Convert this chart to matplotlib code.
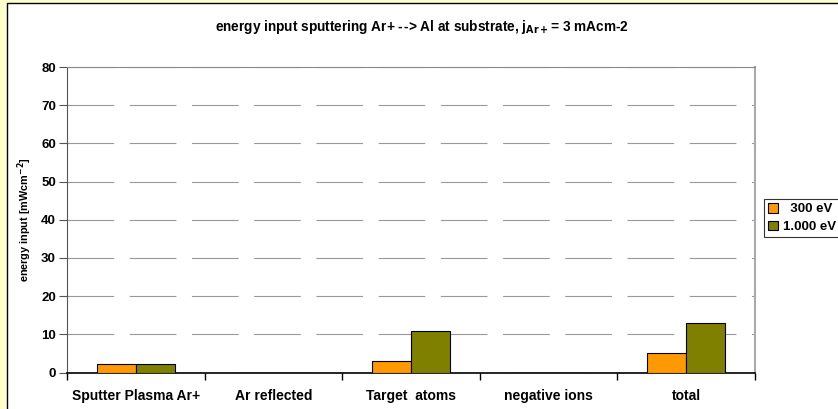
import matplotlib
matplotlib.use("Agg")
import matplotlib.pyplot as plt
import numpy as np
from matplotlib.patches import Rectangle

categories = ["Sputter Plasma Ar+", "Ar reflected", "Target  atoms", "negative ions", "total"]
series_labels = ["  300 eV", "1.000 eV"]
values_300 = [2.1, 0.0, 3.0, 0.0, 5.2]
values_1000 = [2.1, 0.0, 10.8, 0.0, 12.9]
yticks = [0, 10, 20, 30, 40, 50, 60, 70, 80]

plt.rcParams['font.family'] = ['Liberation Sans', 'DejaVu Sans']
plt.rcParams['font.weight'] = 'bold'

W, H = 838, 409
fig = plt.figure(figsize=(W / 100, H / 100), dpi=100)
fig.patch.set_facecolor('#FFFFCC')

# white chart area with black frame
fig.patches.append(Rectangle((7 / W, -0.05), 1.2, 1 - 3 / H + 0.05, transform=fig.transFigure,
                             facecolor='white', edgecolor='black', linewidth=1.0, zorder=-10))

ax = fig.add_axes([67 / W, 1 - 372.5 / H, (755 - 67) / W, (372.5 - 67) / H])
ax.set_zorder(1)
ax.set_facecolor('white')

x = np.arange(len(categories))
bw = 0.285
ax.bar(x - bw / 2, values_300, bw, color='#FF9900', edgecolor='black', linewidth=0.8,
       label=series_labels[0], zorder=3)
ax.bar(x + bw / 2, values_1000, bw, color='#808000', edgecolor='black', linewidth=0.8,
       label=series_labels[1], zorder=3)

ax.set_xlim(-0.5, len(categories) - 0.5)
ax.set_ylim(0, 80)
ax.set_yticks(yticks)
ax.set_yticklabels([str(v) for v in yticks], fontsize=9.5, fontweight='bold')

ax.set_xticks(x)
ax.set_xticklabels(categories, fontsize=10, fontweight='bold')
ax.tick_params(axis='x', length=0, pad=12)
ax.set_xticks(np.arange(len(categories) + 1) - 0.5, minor=True)
ax.tick_params(axis='x', which='minor', length=5, width=1, color='black', direction='out')
ax.tick_params(axis='y', length=6, width=0.8, color='#555555', direction='out', pad=2)

for v in yticks[1:]:
    ax.axhline(v, color='#999999', linewidth=0.8, linestyle=(0, (42, 14)), zorder=1)

ax.spines['top'].set_color('#888888')
ax.spines['right'].set_color('#aaaaaa')
ax.spines['right'].set_linewidth(1.5)
ax.spines['left'].set_color('#555555')
ax.spines['bottom'].set_color('black')
ax.spines['bottom'].set_linewidth(1.2)

ax.set_ylabel("energy input [mWcm$^{\\mathbf{-2}}$]", fontsize=7.8, fontweight='bold', labelpad=5)

fig.text(422 / W, 1 - 27 / H, "energy input sputtering Ar+ -\u200a-> Al at substrate, j$_{\\mathbf{Ar+}}$= 3 mAcm-2",
         ha='center', va='center', fontsize=9.8, fontweight='bold')

leg = fig.legend(loc='upper left', bbox_to_anchor=(764 / W, 1 - 199 / H), fontsize=9.5,
                 frameon=True, fancybox=False, edgecolor='black', handlelength=0.75, handleheight=0.75,
                 handletextpad=0.4, borderpad=0.3, labelspacing=0.4, borderaxespad=0)
leg.get_frame().set_linewidth(0.8)
for t in leg.get_texts():
    t.set_fontweight('bold')

fig.savefig("out.png", dpi=100, facecolor=fig.get_facecolor())
